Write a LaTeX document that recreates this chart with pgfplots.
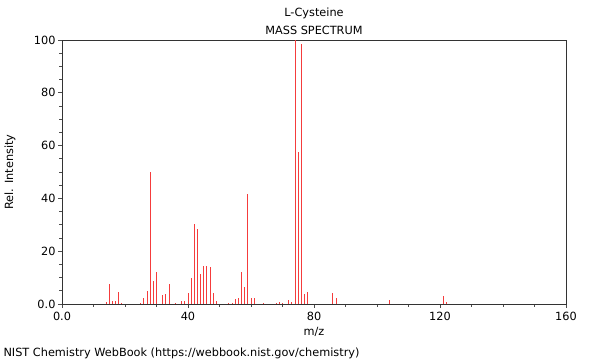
\documentclass[border=0pt]{standalone}
\usepackage{pgfplots}
\pgfplotsset{compat=1.18}
\usepackage{fontspec}
\setmainfont{DejaVu Sans}
\definecolor{barred}{RGB}{245,60,60}
\newcommand{\fs}{\fontsize{11.3}{13}\selectfont}
\begin{document}
\begin{tikzpicture}
\path (0pt,0pt) rectangle (600pt,360pt);
\begin{axis}[
  at={(62pt,56pt)}, anchor=south west,
  scale only axis, width=504pt, height=264pt,
  xmin=0, xmax=160, ymin=0, ymax=100,
  xtick={0,40,80,120,160}, xticklabels={0.0,40,80,120,160},
  ytick={0,20,40,60,80,100}, yticklabels={0.0,20,40,60,80,100},
  minor xtick={10,20,30,50,60,70,90,100,110,130,140,150},
  minor ytick={5,10,15,25,30,35,45,50,55,65,70,75,85,90,95},
  tick align=outside, xtick pos=bottom, ytick pos=left,
  major tick length=4pt, minor tick length=3pt,
  every tick/.style={black!70, line width=0.8pt},
  axis line style={black!80, line width=0.8pt},
  tick label style={font=\fs},
  /pgf/number format/assume math mode=true,
  xticklabel style={yshift=-1pt},
  yticklabel style={xshift=1pt},
  clip=false,
]
\addplot[ycomb, barred, line width=1pt, mark=none] coordinates {
(14,0.6) (15,7.6) (16,1.2) (17,1.2) (18,4.4) (19,0.3)
(25,0.5) (26,2.3) (27,5) (28,50) (29,8.7) (30,12)
(32,3.4) (33,3.8) (34,7.4) (36,0.4) (38,1.1) (39,1.2)
(40,4.2) (41,9.8) (42,30.3) (43,28.5) (44,11.4) (45,14.3)
(46,14.3) (47,13.9) (48,4.2) (49,1) (53,0.5) (54,0.5)
(55,1.9) (56,2.3) (57,12) (58,6.4) (59,41.7) (60,2.3)
(61,2.3) (64,0.5) (68,0.5) (69,0.6) (70,0.5) (72,1.5)
(73,0.6) (74,100) (75,57.7) (76,98.5) (77,3.7) (78,4.4)
(86,4) (87,2.4) (104,1.5) (121,3) (122,0.6)
};
\end{axis}
\node[font=\fs] at (314pt,347pt) {L-Cysteine};
\node[font=\fs] at (314pt,330pt) {MASS SPECTRUM};
\node[font=\fs] at (314pt,28pt) {m/z};
\node[font=\fs, rotate=90] at (10pt,188pt) {Rel. Intensity};
\node[font=\fs, anchor=west] at (0pt,7pt) {NIST Chemistry WebBook (https://webbook.nist.gov/chemistry)};
\end{tikzpicture}
\end{document}
